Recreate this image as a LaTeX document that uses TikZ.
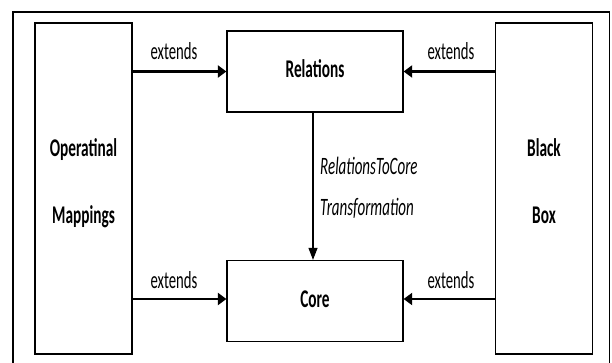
\documentclass[tikz,border=0pt]{standalone}
\usepackage{fontspec}
\setmainfont{Carlito}[FakeStretch=0.6]
\usetikzlibrary{arrows.meta}

\tikzset{
  frame/.style={draw=black, line width=1.4pt},
  sidebox/.style={draw=black, line width=1.3pt, minimum width=97pt, minimum height=331pt, inner sep=0pt},
  midbox/.style={draw=black, line width=1.3pt, minimum width=176pt, minimum height=81pt, inner sep=0pt},
  boxtext/.style={font=\fontsize{25.5}{25.5}\selectfont\bfseries, inner sep=0pt, anchor=base},
  edgetext/.style={font=\fontsize{24.5}{24.5}\selectfont, inner sep=0pt, anchor=base},
  transtext/.style={font=\fontsize{25}{25}\selectfont\itshape, inner sep=0pt, anchor=base west},
  extends/.style={draw=black, line width=2.4pt, -{Triangle[length=8.5pt,width=12pt]}},
  trans/.style={draw=black, line width=1.1pt, -{Triangle[length=12pt,width=9pt]}}
}

\begin{document}
\begin{tikzpicture}[x=1pt, y=-1pt]
  \useasboundingbox (0,0) rectangle (612,363);
  \fill[white] (0,0) rectangle (612,363);

  % outer frame, running past the lower edge
  \draw[frame] (13,370) -- (13,12) -- (609.5,12) -- (609.5,370);

  % boxes
  \node[sidebox] (om) at (83.5,188.5) {};
  \node[sidebox] (bb) at (544,188.5) {};
  \node[midbox]  (rel) at (315,71.5) {};
  \node[midbox]  (core) at (315,301) {};

  % box captions
  \node[boxtext] (omA) at (83.5,156.7) {Operatinal};
  \node[boxtext] (omB) at (83.5,223.7) {Mappings};
  \node[boxtext] (bbA) at (544,156.7) {Black};
  \node[boxtext] (bbB) at (544,223.7) {Box};
  \node[boxtext] (relT) at (315,77.7) {Relations};
  \node[boxtext] (coreT) at (315,307.2) {Core};

  % extension arrows
  \draw[extends] (om.east |- rel.west) -- (rel.west);
  \draw[extends] (bb.west |- rel.east) -- (rel.east);
  \draw[extends] ([yshift=2pt]om.east |- core.west) -- ([yshift=2pt]core.west);
  \draw[extends] ([yshift=2pt]bb.west |- core.east) -- ([yshift=2pt]core.east);

  \node[edgetext] (e1) at (174,59.3) {extends};
  \node[edgetext] (e2) at (451,59.3) {extends};
  \node[edgetext] (e3) at (174,288.7) {extends};
  \node[edgetext] (e4) at (451,288.7) {extends};

  % transformation arrow
  \draw[trans] ([xshift=-2pt]rel.south) -- ([xshift=-2pt]core.north);
  \node[transtext] (t1) at (320,175) {RelationsToCore};
  \node[transtext] (t2) at (320,215.7) {Transformation};
\end{tikzpicture}
\end{document}
